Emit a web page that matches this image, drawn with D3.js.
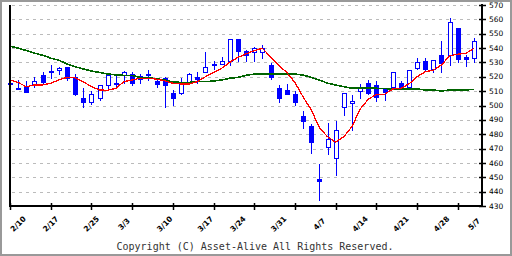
<!DOCTYPE html>
<html>
<head>
<meta charset="utf-8">
<script src="https://cdn.jsdelivr.net/npm/d3@7"></script>
<style>
body { margin: 0; background: #fff; }
svg { display: block; }
</style>
</head>
<body>
<svg width="512" height="256"></svg>
<script>
// trading days, one candle each
var dates = ["2/7","2/10","2/12","2/13","2/14","2/17","2/18","2/19","2/20","2/21",
  "2/25","2/26","2/27","2/28","3/3","3/4","3/5","3/6","3/7","3/10",
  "3/11","3/12","3/13","3/14","3/17","3/18","3/19","3/21","3/24","3/25",
  "3/26","3/27","3/28","3/31","4/1","4/2","4/3","4/4","4/7","4/8",
  "4/9","4/10","4/11","4/14","4/15","4/16","4/17","4/18","4/21","4/22",
  "4/23","4/24","4/25","4/28","4/30","5/1","5/2","5/7"];

var open  = [516,512.3,513,514,521,524,524.5,526.6,520,505,
  502.5,505,514.5,516,521,522,520.5,522,517,519.5,
  509,508.5,516.6,520,523.5,528.5,528.7,531,546,538,
  537.5,537,528,512,510.8,507.8,492.7,485.7,448.5,471.3,
  463.7,499.2,501.5,510,515.5,514,511.3,512.7,515.5,512.7,
  526.3,531,525.4,535.2,535.2,553.8,533.8,533];
var high  = [516.5,517.5,517,520,523.5,528,526.5,526.8,522,512.5,
  510,514.5,522.5,521.5,524,523,522,524.7,519.5,520,
  511,519.5,522.5,523,537,531,533.5,546.5,546.5,539,
  540.5,542,529.5,514.3,515,510,496,487,459.3,487.6,
  489.4,508.5,507.3,515,517.5,517,511.5,523,517,524.7,
  533.3,533.3,531.5,545,560.7,554,535.2,546.8];
var low   = [514.5,512,509.6,513,515.5,519.5,521.7,518,507.5,499,
  501,504,512,513,516,514,515.5,518,512.7,499,
  500.5,508,516,516,523.5,525.5,528.7,528.5,531,531,
  531,533,518.5,502.6,507.8,500.3,484.5,466.7,434.2,466.2,
  451.6,493.4,483,505.5,508,503.3,503.8,512.5,512,512.5,
  525.6,524,523.5,523.5,528.2,530,527.7,530.5];
var close = [515,512,509.6,517,516.5,523,526,519.4,508,502.5,
  508,514,521.5,515,523,515.5,518.7,521,515,514.5,
  505.5,516.5,522,518.5,527,529,531.2,546.5,538,535.3,
  540,540.3,519.6,505.5,507.8,502.6,489.4,474.8,447.5,476.7,
  483,508.5,503,512.5,508.5,505.7,509.4,523,512.4,524.7,
  530,525.4,531.5,529.8,558,532.4,532.4,544.7];

// moving averages
var maShort = [517.8,516,513.1,514.3,514.3,515.5,517.8,519.6,519.4,516.6,
  513.1,510.8,510.6,512,516.6,517.8,519,519,518.3,517.3,
  515.5,515,515,516.6,520,523.1,525.9,530.1,533.6,535.9,
  538.2,539.8,534,528,523,516,506,497,484.5,478.3,
  474.4,478.3,485.2,497.5,504.3,507.8,507.8,511.5,512,515,
  520,523.5,524.7,528.2,534.7,535.7,536.4,539.8];
var maLong = [541.3,540,538.3,536.5,535,533,531.5,529,527,525.5,
  524,523,522,521.3,521,521,519.5,519.4,518.5,517.8,
  516.3,516.1,516.1,516.6,516.6,517,517.8,519,519.6,521,
  521.9,521.9,521.9,522,522,521.9,521.2,519.6,517.8,515.5,
  514.3,513.1,512,512,512,512,511.8,511.5,511.5,511.5,
  511.5,510.8,510.8,510.1,510.8,510.8,510.8,511.3];

var labelDates = ["2/10","2/17","2/25","3/3","3/10","3/17","3/24","3/31","4/7","4/14","4/21","4/28","5/7"];
var yTicks = [430,440,450,460,470,480,490,500,510,520,530,540,550,560,570];

var svg = d3.select("svg");

var x = d3.scaleLinear().domain([0, 58]).range([10, 482.2]);
var y = d3.scaleLinear().domain([430, 570]).range([206, 5]);

// outer frame
svg.append("rect")
  .attr("x", 1).attr("y", 1).attr("width", 510).attr("height", 254)
  .attr("fill", "none").attr("stroke", "#999").attr("stroke-width", 2);

// grid
svg.selectAll(".grid")
  .data(yTicks.slice(1))
  .enter().append("line")
  .attr("x1", 12).attr("x2", 480)
  .attr("y1", function(d) { return Math.round(y(d)) + 0.5; })
  .attr("y2", function(d) { return Math.round(y(d)) + 0.5; })
  .attr("stroke", "#bbb")
  .attr("stroke-dasharray", "3,4");

// candles
var idx = d3.range(dates.length);
var cx = function(i) { return Math.round(x(i)); };

svg.selectAll(".wick")
  .data(idx)
  .enter().append("line")
  .attr("x1", function(i) { return cx(i) + 0.5; })
  .attr("x2", function(i) { return cx(i) + 0.5; })
  .attr("y1", function(i) { return Math.round(y(high[i])); })
  .attr("y2", function(i) { return Math.round(y(low[i])) + 1; })
  .attr("stroke", "#0000ff");

svg.selectAll(".body")
  .data(idx)
  .enter().append("rect")
  .attr("x", function(i) { return close[i] >= open[i] ? cx(i) - 1.5 : cx(i) - 2; })
  .attr("y", function(i) {
    var t = Math.round(y(Math.max(open[i], close[i])));
    return close[i] >= open[i] ? t + 0.5 : t;
  })
  .attr("width", function(i) { return close[i] >= open[i] ? 4 : 5; })
  .attr("height", function(i) {
    var h = Math.round(y(Math.min(open[i], close[i]))) - Math.round(y(Math.max(open[i], close[i])));
    return close[i] >= open[i] ? Math.max(h, 1) : Math.max(h, 1) + 1;
  })
  .attr("fill", function(i) { return close[i] >= open[i] ? "#fff" : "#0000ff"; })
  .attr("stroke", function(i) { return close[i] >= open[i] ? "#0000ff" : "none"; });

// moving averages
var line = d3.line()
  .x(function(d, i) { return x(i); })
  .y(function(d) { return y(d); });

svg.append("path").datum(maLong)
  .attr("d", line)
  .attr("fill", "none").attr("stroke", "#006400").attr("stroke-width", 1.6)
  .attr("shape-rendering", "crispEdges");

svg.append("path").datum(maShort)
  .attr("d", line)
  .attr("fill", "none").attr("stroke", "#ff0000").attr("stroke-width", 1.3)
  .attr("shape-rendering", "crispEdges");

// axes
svg.append("line").attr("x1", 10).attr("x2", 10).attr("y1", 5).attr("y2", 207)
  .attr("stroke", "#000").attr("stroke-width", 2);
svg.append("line").attr("x1", 482).attr("x2", 482).attr("y1", 4).attr("y2", 207)
  .attr("stroke", "#000").attr("stroke-width", 2);
svg.append("line").attr("x1", 9).attr("x2", 483).attr("y1", 206).attr("y2", 206)
  .attr("stroke", "#000").attr("stroke-width", 2);

// right ticks + labels
svg.selectAll(".ytick")
  .data(yTicks)
  .enter().append("line")
  .attr("x1", 479).attr("x2", 486)
  .attr("y1", function(d) { return Math.round(y(d)) + 0.5; })
  .attr("y2", function(d) { return Math.round(y(d)) + 0.5; })
  .attr("stroke", "#000").attr("stroke-width", 1.5);

svg.selectAll(".ylabel")
  .data(yTicks)
  .enter().append("text")
  .attr("x", 489)
  .attr("y", function(d) { return y(d); })
  .attr("dy", "0.35em")
  .attr("font-family", "DejaVu Sans")
  .attr("font-size", "7.5px")
  .attr("fill", "#000")
  .text(function(d) { return d; });

// bottom ticks every 5 candles
svg.selectAll(".xtick")
  .data(d3.range(0, 56, 5))
  .enter().append("line")
  .attr("x1", function(i) { return cx(i) + 0.5; })
  .attr("x2", function(i) { return cx(i) + 0.5; })
  .attr("y1", 203).attr("y2", 210)
  .attr("stroke", "#000").attr("stroke-width", 1.5);

// date labels at week starts
svg.selectAll(".xlabel")
  .data(labelDates)
  .enter().append("text")
  .attr("transform", function(d) {
    return "translate(" + x(dates.indexOf(d)) + ",224) rotate(-45)";
  })
  .attr("text-anchor", "middle")
  .attr("dy", "0.35em")
  .attr("font-family", "DejaVu Sans")
  .attr("font-size", "7.5px")
  .attr("font-weight", "bold")
  .attr("fill", "#000")
  .text(function(d) { return d; });

svg.append("text")
  .attr("x", 255).attr("y", 250)
  .attr("text-anchor", "middle")
  .attr("font-family", "DejaVu Sans Mono")
  .attr("font-size", "10px")
  .attr("fill", "#333")
  .text("Copyright (C) Asset-Alive All Rights Reserved.");
</script>
</body>
</html>
